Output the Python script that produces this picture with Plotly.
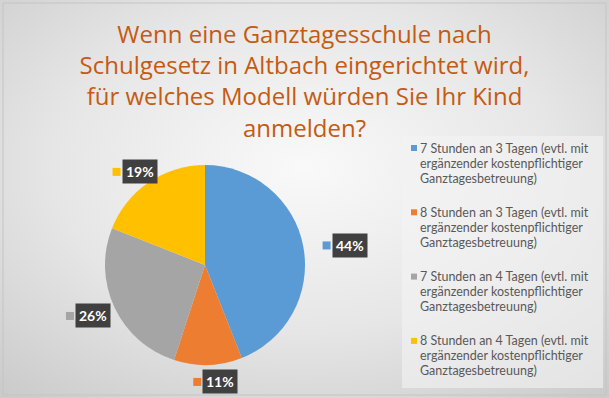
import base64, math
import plotly.graph_objects as go

# ---- data ----
categories = [
    "7 Stunden an 3 Tagen (evtl. mit|ergänzender kostenpflichtiger|Ganztagesbetreuung)",
    "8 Stunden an 3 Tagen (evtl. mit|ergänzender kostenpflichtiger|Ganztagesbetreuung)",
    "7 Stunden an 4 Tagen (evtl. mit|ergänzender kostenpflichtiger|Ganztagesbetreuung)",
    "8 Stunden an 4 Tagen (evtl. mit|ergänzender kostenpflichtiger|Ganztagesbetreuung)",
]
values = [44, 11, 26, 19]
colors = ["#5B9BD5", "#ED7D31", "#A5A5A5", "#FFC000"]
title_text = ("Wenn eine Ganztagesschule nach<br>Schulgesetz in Altbach eingerichtet wird,"
              "<br>für welches Modell würden Sie Ihr Kind<br>anmelden?")

W, H = 609, 398
CX, CY, R = 205, 265, 100  # pie center / radius in pixels

svg = f'''<svg xmlns="http://www.w3.org/2000/svg" width="{W}" height="{H}">
<defs><radialGradient id="g" cx="50%" cy="42%" r="75%">
<stop offset="0%" stop-color="#f9f9f9"/><stop offset="55%" stop-color="#e6e6e6"/>
<stop offset="100%" stop-color="#cbcbcb"/></radialGradient></defs>
<rect width="{W}" height="{H}" fill="url(#g)"/></svg>'''
src = "data:image/svg+xml;base64," + base64.b64encode(svg.encode()).decode()

def px(x):
    return x / W

def py(y):
    return 1 - y / H

fig = go.Figure()
fig.add_trace(go.Pie(
    labels=[c.replace("|", " ") for c in categories], values=values, sort=False,
    direction="clockwise", rotation=0,
    marker=dict(colors=colors, line=dict(width=0)), textinfo="none",
    domain=dict(x=[px(CX - R), px(CX + R)], y=[py(CY + R), py(CY - R)]),
    showlegend=False,
))

shapes = [
    dict(type="rect", xref="paper", yref="paper", x0=px(402), x1=px(603), y0=py(388), y1=py(136),
         fillcolor="rgba(244,244,244,0.6)", line=dict(width=0), layer="below"),
    dict(type="rect", xref="paper", yref="paper", x0=px(3), x1=px(606), y0=py(395), y1=py(3),
         fillcolor="rgba(0,0,0,0)", line=dict(width=1, color="#c4c4c4"), layer="below"),
]
annotations = []

# data labels
total = sum(values)
cum = 0
for v, c in zip(values, colors):
    mid = (cum + v / 2) / total * 2 * math.pi
    cum += v
    gx = CX + 6 + (R + 36) * math.sin(mid)
    gy = CY + 2 - (R + 15) * math.cos(mid)
    shapes.append(dict(type="rect", xref="paper", yref="paper",
                       x0=px(gx - 22), x1=px(gx - 14), y0=py(gy + 4), y1=py(gy - 4),
                       fillcolor=c, line=dict(width=0)))
    annotations.append(dict(xref="paper", yref="paper", x=px(gx + 5), y=py(gy),
                            text=f"<b>{round(v / total * 100)}%</b>", showarrow=False,
                            font=dict(family="Lato, sans-serif", size=14, color="white"),
                            bgcolor="#404040", borderpad=3, xanchor="center", yanchor="middle"))

# legend (drawn manually)
LX, LY0, LSTEP, LLINE = 411, 148, 64.3, 15
for i, (cat, c) in enumerate(zip(categories, colors)):
    y0 = LY0 + i * LSTEP
    shapes.append(dict(type="rect", xref="paper", yref="paper",
                       x0=px(LX), x1=px(LX + 6), y0=py(y0 + 3), y1=py(y0 - 3),
                       fillcolor=c, line=dict(width=0)))
    for j, line in enumerate(cat.split("|")):
        annotations.append(dict(xref="paper", yref="paper", x=px(LX + 7), y=py(y0 + j * LLINE),
                                text=line, showarrow=False, xanchor="left", yanchor="middle",
                                font=dict(family="Lato, sans-serif", size=12.5, color="#595959")))

fig.update_layout(
    width=W, height=H, margin=dict(l=0, r=0, t=0, b=0),
    paper_bgcolor="#e4e4e4", plot_bgcolor="rgba(0,0,0,0)",
    images=[dict(source=src, xref="paper", yref="paper", x=0, y=1, sizex=1, sizey=1,
                 sizing="stretch", layer="below", xanchor="left", yanchor="top")],
    title=dict(text=title_text, x=0.5, xanchor="center", y=py(43), yanchor="top",
               font=dict(family="Open Sans, sans-serif", size=24, color="#C55A11")),
    shapes=shapes, annotations=annotations,
)
fig.write_html("out.html", config={"displayModeBar": False},
               post_script="document.body.style.margin='0';")
